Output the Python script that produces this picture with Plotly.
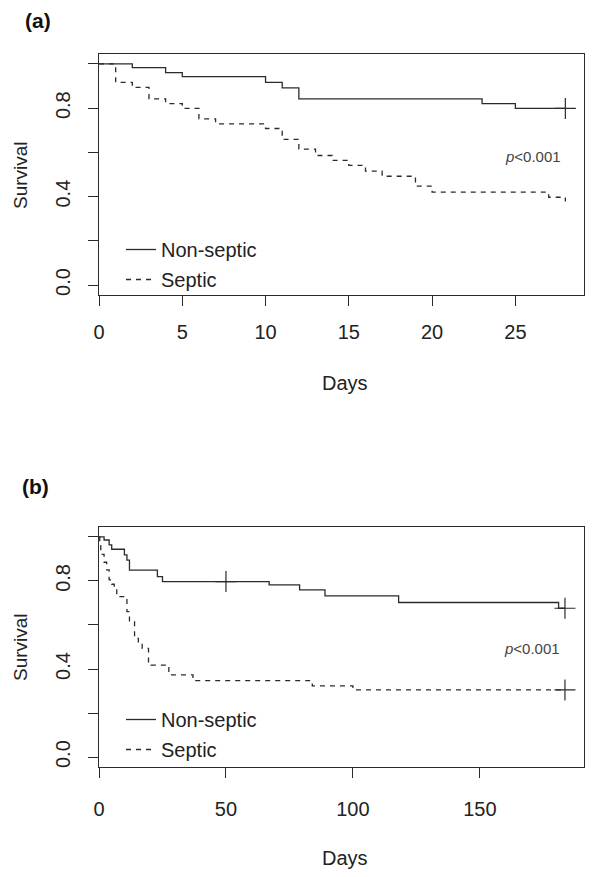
import plotly.graph_objects as go

# ---------------- data ----------------
# Panel (a): 28-day survival
a_ns_days = [0, 2, 4, 5, 10, 11, 12, 23, 25, 28]
a_ns_surv = [1.0, 0.983, 0.961, 0.943, 0.917, 0.892, 0.842, 0.821, 0.799, 0.799]
a_ns_cens_days = [28]
a_ns_cens_surv = [0.799]

a_sep_days = [0, 1, 2, 3, 4, 5, 6, 7, 10, 11, 12, 13, 14, 15, 16, 17, 19, 20, 27, 28]
a_sep_surv = [1.0, 0.917, 0.894, 0.842, 0.821, 0.799, 0.752, 0.729, 0.708, 0.659,
              0.615, 0.586, 0.564, 0.541, 0.515, 0.492, 0.447, 0.420, 0.397, 0.378]

# Panel (b): long-term survival
b_ns_days = [0, 2, 4, 5, 10, 11, 12, 23, 25, 67, 79, 89, 118, 181, 183.5]
b_ns_surv = [1.0, 0.986, 0.964, 0.944, 0.918, 0.895, 0.849, 0.820, 0.797, 0.782,
             0.759, 0.732, 0.702, 0.676, 0.676]
b_ns_cens_days = [50, 183.5]
b_ns_cens_surv = [0.797, 0.676]

b_sep_days = [0, 0.3, 0.7, 2, 3, 4, 5, 6, 7, 11, 12, 14, 15.5, 17, 19.5, 20.5,
              27.5, 37, 84, 100, 183.5]
b_sep_surv = [1.0, 0.96, 0.921, 0.885, 0.85, 0.805, 0.785, 0.767, 0.729, 0.661,
              0.615, 0.539, 0.517, 0.494, 0.433, 0.418, 0.373, 0.347, 0.323,
              0.305, 0.305]
b_sep_cens_days = [183.5]
b_sep_cens_surv = [0.305]

group_names = ["Non-septic", "Septic"]
y_ticks = [0, 0.2, 0.4, 0.6, 0.8, 1.0]
y_tick_text = ["0.0", "", "0.4", "", "0.8", ""]
a_x_ticks = [0, 5, 10, 15, 20, 25]
b_x_ticks = [0, 50, 100, 150]
p_text = "<i>p</i><0.001"

# ---------------- figure ----------------
FONT = "Liberation Sans, Arial, sans-serif"
INK = "#2b2b2b"
W, H = 600, 877
OFF = 8  # page body margin: figure starts 8px right/down in the window


def px(x):
    return (x - OFF) / W


def py(y):
    return 1 - (y - OFF) / H


fig = go.Figure()


def add_panel(xa, ya, legend, ns_d, ns_s, sep_d, sep_s, cens):
    fig.add_trace(go.Scatter(x=ns_d, y=ns_s, mode="lines", line_shape="hv",
                             line=dict(color=INK, width=1.3), name=group_names[0],
                             xaxis=xa, yaxis=ya, legend=legend, legendgroup="g1" + legend))
    fig.add_trace(go.Scatter(x=sep_d, y=sep_s, mode="lines", line_shape="hv",
                             line=dict(color=INK, width=1.3, dash="5px,5px"), name=group_names[1],
                             xaxis=xa, yaxis=ya, legend=legend, legendgroup="g2" + legend))
    for cd, cs in cens:
        fig.add_trace(go.Scatter(x=cd, y=cs, mode="markers",
                                 marker=dict(symbol="cross-thin", size=15,
                                             line=dict(color=INK, width=1.2)),
                                 showlegend=False, xaxis=xa, yaxis=ya, hoverinfo="skip"))


add_panel("x", "y", "legend", a_ns_days, a_ns_surv, a_sep_days, a_sep_surv,
          [(a_ns_cens_days, a_ns_cens_surv)])
add_panel("x2", "y2", "legend2", b_ns_days, b_ns_surv, b_sep_days, b_sep_surv,
          [(b_ns_cens_days, b_ns_cens_surv), (b_sep_cens_days, b_sep_cens_surv)])

xdom = [px(99), px(584)]
axis_common = dict(showline=True, mirror=True, linecolor=INK, linewidth=1.2,
                   ticks="outside", ticklen=10, tickcolor=INK, tickwidth=1.2,
                   showgrid=False, zeroline=False, automargin=False,
                   tickfont=dict(family=FONT, size=20, color="#222"))

fig.update_layout(
    width=W, height=H,
    margin=dict(l=0, r=0, t=0, b=0, autoexpand=False),
    paper_bgcolor="white", plot_bgcolor="white",
    font=dict(family=FONT, color="#222"),
    xaxis=dict(domain=xdom, range=[0, 29.12], tickvals=a_x_ticks, anchor="y",
               ticklabelstandoff=9, **axis_common),
    yaxis=dict(domain=[py(295), py(54)], range=[-0.045, 1.045], tickvals=y_ticks,
               ticktext=y_tick_text, tickangle=-90, anchor="x",
               ticklabelstandoff=10, **axis_common),
    xaxis2=dict(domain=xdom, range=[0, 191], tickvals=b_x_ticks, anchor="y2",
                ticklabelstandoff=14, **axis_common),
    yaxis2=dict(domain=[py(767), py(527)], range=[-0.045, 1.045], tickvals=y_ticks,
                ticktext=y_tick_text, tickangle=-90, anchor="x2",
                ticklabelstandoff=10, **axis_common),
    legend=dict(x=px(121), y=py(230), xanchor="left", yanchor="top",
                bgcolor="rgba(0,0,0,0)", font=dict(family=FONT, size=20, color="#222"),
                tracegroupgap=1, itemwidth=30),
    legend2=dict(x=px(121), y=py(700), xanchor="left", yanchor="top",
                 bgcolor="rgba(0,0,0,0)", font=dict(family=FONT, size=20, color="#222"),
                 tracegroupgap=1, itemwidth=30),
    showlegend=True,
)

ann_font = dict(family=FONT, size=20, color="#222")


def label(text, x, y, font, angle=0):
    return dict(text=text, x=px(x), y=py(y), xref="paper", yref="paper",
                xanchor="center", yanchor="middle", showarrow=False,
                textangle=angle, font=font, borderpad=0)


annotations = [
    label("<b>(a)</b>", 38, 21, dict(family=FONT, size=21, color="#111")),
    label("<b>(b)</b>", 35, 487, dict(family=FONT, size=21, color="#111")),
    label("Survival", 20, 175, dict(family=FONT, size=19, color="#222"), -90),
    label("Survival", 20, 647, dict(family=FONT, size=19, color="#222"), -90),
    label("Days", 345, 383, ann_font),
    label("Days", 345, 858, ann_font),
    label(p_text, 533, 156, dict(family=FONT, size=15, color="#444")),
    label(p_text, 532, 648, dict(family=FONT, size=15, color="#444")),
]
fig.update_layout(annotations=annotations)

fig.write_html("out.html")
